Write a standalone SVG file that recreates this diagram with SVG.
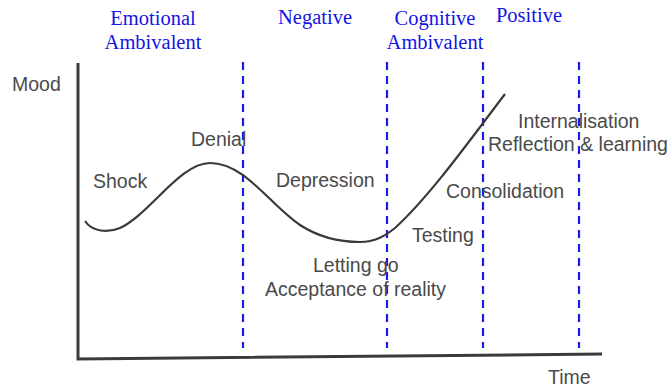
<svg xmlns="http://www.w3.org/2000/svg" width="670" height="389" viewBox="0 0 670 389">
<style>
.phase{font-family:"Liberation Serif","Times New Roman",serif;font-size:20.5px;fill:#1414e6;text-anchor:middle}
.lbl{font-family:"Liberation Sans",Arial,sans-serif;font-size:19.5px;fill:#4a4a4a}
.div{stroke:#1a1aee;stroke-width:2.2;stroke-dasharray:8,6;fill:none}
.axis{stroke:#3a3a3a;stroke-width:3;fill:none}
.curve{stroke:#3a3a3a;stroke-width:2.2;fill:none}
</style>
<rect width="670" height="389" fill="#ffffff"/>
<g id="phases">
<text class="phase" x="153" y="25">Emotional</text>
<text class="phase" x="153" y="49">Ambivalent</text>
<text class="phase" x="315" y="24">Negative</text>
<text class="phase" x="435" y="25">Cognitive</text>
<text class="phase" x="435" y="49">Ambivalent</text>
<text class="phase" x="529" y="22">Positive</text>
</g>
<g id="axes">
<path class="axis" d="M78,63 L78,359 L602,354"/>
<text class="lbl" x="12" y="91">Mood</text>
<text class="lbl" x="548" y="384">Time</text>
</g>
<g id="dividers">
<line class="div" x1="243" y1="62" x2="243" y2="348"/>
<line class="div" x1="387" y1="62" x2="387" y2="348"/>
<line class="div" x1="483" y1="62" x2="483" y2="348"/>
<line class="div" x1="579" y1="62" x2="579" y2="348"/>
</g>
<g id="curve">
<path class="curve" d="M85,221 C92,232 108,233 120,228 C150,214 180,163 210,163 C245,163 270,205 300,225 C320,238 340,242 360,242 C375,242 385,236 395,228 C430,196 470,140 505,94"/>
</g>
<g id="stages">
<text class="lbl" x="93" y="188">Shock</text>
<text class="lbl" x="191" y="146">Denial</text>
<text class="lbl" x="276" y="187">Depression</text>
<text class="lbl" x="313" y="272">Letting go</text>
<text class="lbl" x="265" y="296">Acceptance of reality</text>
<text class="lbl" x="412" y="242">Testing</text>
<text class="lbl" x="446" y="198">Consolidation</text>
<text class="lbl" x="518" y="128">Internalisation</text>
<text class="lbl" x="488" y="151">Reflection &amp; learning</text>
</g>
</svg>
